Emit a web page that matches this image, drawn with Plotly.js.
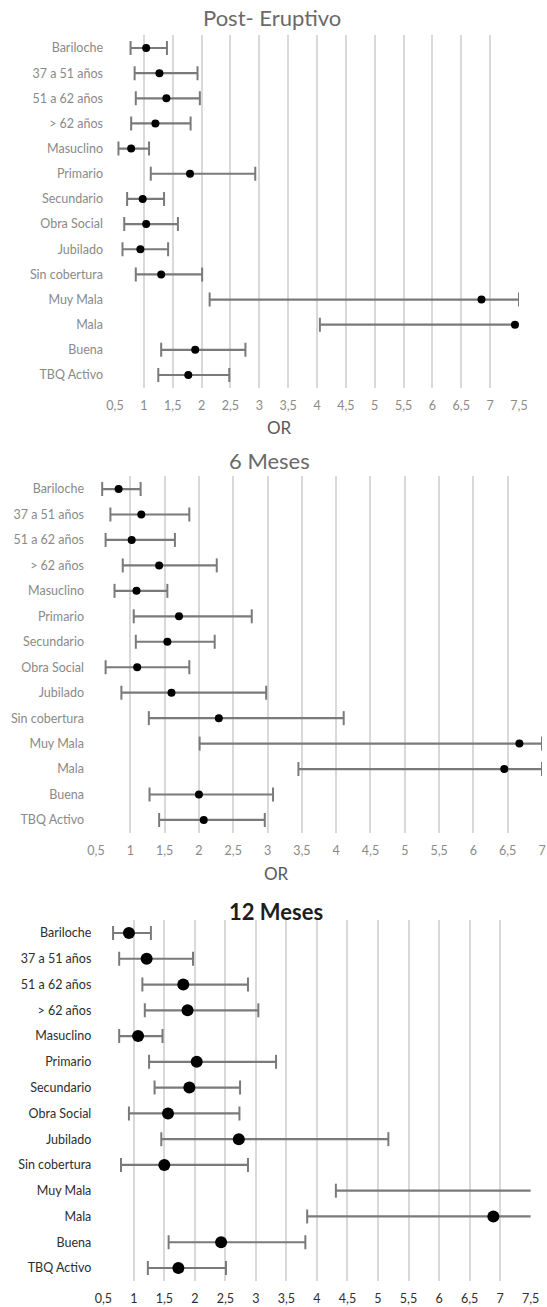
<!DOCTYPE html>
<html>
<head>
<meta charset="utf-8">
<script src="https://cdn.plot.ly/plotly-3.0.1.min.js"></script>
<style>
html,body{margin:0;padding:0;background:#fff;}
#chart{width:547px;height:1307px;}
</style>
</head>
<body>
<div id="chart"></div>
<script>
// ---- data ----
const categories = ['Bariloche','37 a 51 años','51 a 62 años','> 62 años','Masuclino','Primario','Secundario','Obra Social','Jubilado','Sin cobertura','Muy Mala','Mala','Buena','TBQ Activo'];

const panelTitles = ['Post- Eruptivo','6 Meses','12 Meses'];

// Post- Eruptivo
const orPost  = [1.04,1.27,1.39,1.20,0.78,1.80,0.98,1.04,0.94,1.30,6.85,7.43,1.89,1.77];
const loPost  = [0.77,0.84,0.86,0.78,0.56,1.12,0.71,0.66,0.63,0.86,2.14,4.05,1.30,1.25];
const hiPost  = [1.40,1.93,1.97,1.81,1.09,2.93,1.35,1.59,1.42,2.01,7.50,8.00,2.76,2.48];

// 6 Meses
const or6  = [0.83,1.16,1.02,1.42,1.09,1.71,1.54,1.10,1.60,2.29,6.67,6.45,2.00,2.07];
const lo6  = [0.59,0.71,0.64,0.89,0.77,1.05,1.08,0.64,0.87,1.27,2.01,3.45,1.28,1.42];
const hi6  = [1.15,1.86,1.65,2.26,1.54,2.77,2.23,1.86,2.98,4.11,7.00,7.00,3.08,2.96];

// 12 Meses (Muy Mala point lies beyond the axis)
const or12 = [0.92,1.21,1.81,1.88,1.07,2.03,1.91,1.56,2.72,1.50,null,6.89,2.43,1.73];
const lo12 = [0.66,0.76,1.14,1.18,0.76,1.25,1.34,0.92,1.45,0.79,4.31,3.84,1.57,1.23];
const hi12 = [1.28,1.97,2.87,3.04,1.47,3.33,2.74,2.73,5.17,2.87,9.00,9.00,3.81,2.51];

const xRanges = [[0.5,7.5],[0.5,7],[0.5,7.5]];
const xTitles = ['OR','OR',''];

// ---- build ----
const W = 547, H = 1307;
const panels = [
  {or:orPost, lo:loPost, hi:hiPost, x0:115, x1:519, top:35.4, bot:387.6, msize:8, catColor:'#8a8a8a', titleY:18, titleX:272, titleSize:22, titleColor:'#6a6a6a', titleWeight:'normal', orY:427, orX:279, tickColor:'#8a8a8a'},
  {or:or6, lo:lo6, hi:hi6, x0:96, x1:542, top:476.3, bot:832.7, msize:8, catColor:'#8a8a8a', titleY:460, titleX:269, titleSize:22, titleColor:'#6a6a6a', titleWeight:'normal', orY:873, orX:276, tickColor:'#8a8a8a'},
  {or:or12, lo:lo12, hi:hi12, x0:103.3, x1:530.6, top:920.1, bot:1280.9, msize:12, catColor:'#2e2e2e', titleY:911, titleX:276, titleSize:22, titleColor:'#1e1e1e', titleWeight:'bold', orY:null, orX:0, tickColor:'#2e2e2e'}
];

const traces = [];
const layout = {
  width: W, height: H,
  margin: {l:0, r:0, t:0, b:0},
  paper_bgcolor: '#fff', plot_bgcolor: '#fff',
  showlegend: false,
  separators: ',.',
  font: {family: 'Lato, "Liberation Sans", sans-serif', color: '#7f7f7f'},
  annotations: []
};

panels.forEach((p, k) => {
  const sfx = k === 0 ? '' : String(k + 1);
  const xa = 'x' + sfx, ya = 'y' + sfx;
  const xs = [], ys = [];
  for (let i = 0; i < categories.length; i++) {
    xs.push(p.lo[i], p.hi[i], null);
    ys.push(categories[i], categories[i], null);
  }
  traces.push({
    type: 'scatter', mode: 'lines+markers', x: xs, y: ys, xaxis: xa, yaxis: ya,
    line: {color: '#7a7a7a', width: 2.2},
    marker: {symbol: 'line-ns', size: 10, color: '#7a7a7a', line: {color: '#7a7a7a', width: 2}},
    hoverinfo: 'skip'
  });
  traces.push({
    type: 'scatter', mode: 'markers', x: p.or, y: categories, xaxis: xa, yaxis: ya,
    marker: {color: '#000', size: p.msize}
  });
  layout['xaxis' + sfx] = {
    domain: [p.x0 / W, p.x1 / W], anchor: ya,
    range: xRanges[k], dtick: 0.5, tick0: 0.5,
    showgrid: true, gridcolor: '#d9d9d9', gridwidth: 2,
    zeroline: false, showline: false, ticks: '',
    ticklabelstandoff: 9,
    tickfont: {size: 12.5, color: p.tickColor, family: 'Lato, sans-serif'}
  };
  layout['yaxis' + sfx] = {
    domain: [1 - p.bot / H, 1 - p.top / H], anchor: xa,
    type: 'category', categoryorder: 'array', categoryarray: categories,
    range: [categories.length - 0.5, -0.5],
    showgrid: false, zeroline: false, showline: false, ticks: '',
    ticklabelstandoff: 11,
    tickfont: {size: 12.5, color: p.catColor, family: 'Lato, sans-serif'}
  };
  layout.annotations.push({
    text: panelTitles[k], xref: 'paper', yref: 'paper',
    x: p.titleX / W, y: 1 - p.titleY / H, xanchor: 'center', yanchor: 'middle',
    showarrow: false,
    font: {size: p.titleSize, color: p.titleColor, family: 'Lato, sans-serif', weight: p.titleWeight}
  });
  if (xTitles[k]) {
    layout.annotations.push({
      text: xTitles[k], xref: 'paper', yref: 'paper',
      x: p.orX / W, y: 1 - p.orY / H, xanchor: 'center', yanchor: 'middle',
      showarrow: false,
      font: {size: 17, color: '#595959', family: 'Lato, sans-serif'}
    });
  }
});

Plotly.newPlot('chart', traces, layout, {displayModeBar: false, staticPlot: true});
</script>
</body>
</html>
